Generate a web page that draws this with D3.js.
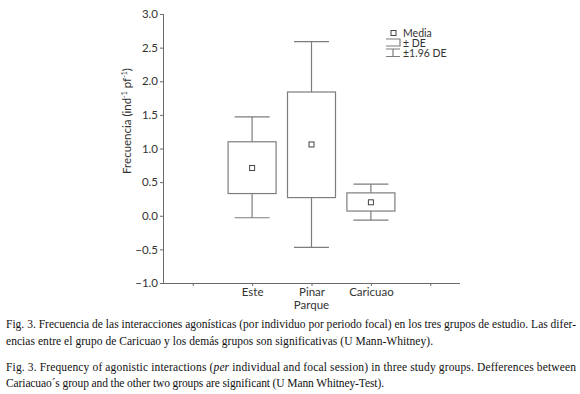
<!DOCTYPE html>
<html>
<head>
<meta charset="utf-8">
<script src="https://cdn.jsdelivr.net/npm/d3@7"></script>
<style>
  body { margin: 0; background: #fff; }
  svg { display: block; }
</style>
</head>
<body>
<div id="chart"></div>
<script>
// data
var groups = ["Este", "Pinar", "Caricuao"];
var means = [0.71, 1.06, 0.20];
var sdLow = [0.33, 0.27, 0.07];
var sdHigh = [1.10, 1.84, 0.34];
var ciLow = [-0.03, -0.47, -0.065];
var ciHigh = [1.47, 2.59, 0.47];
var yTicks = [-1.0, -0.5, 0.0, 0.5, 1.0, 1.5, 2.0, 2.5, 3.0];
var legendLabels = ["Media", "± DE", "±1.96 DE"];
var captionLines = [
  "Fig. 3. Frecuencia de las interacciones agonísticas (por individuo por periodo focal) en los tres grupos de estudio. Las difer-",
  "encias entre el grupo de Caricuao y los demás grupos son significativas (U Mann-Whitney).",
  null,
  "Cariacuao´s group and the other two groups are significant (U Mann Whitney-Test)."
];

var W = 580, H = 394;
var margin = {top: 14, left: 163, right: 120, bottom: 111};
var plotW = W - margin.left - margin.right,
    plotH = H - margin.top - margin.bottom;

var lineCol = "#7d7d7d", axisCol = "#6a6a6a", textCol = "#333";
var sansFont = "Lato, 'Noto Sans', sans-serif";

var svg = d3.select("#chart").append("svg")
    .attr("width", W)
    .attr("height", H);

var g = svg.append("g")
    .attr("transform", "translate(" + margin.left + "," + margin.top + ")");

// x: two empty slots at the ends, as in the original plot
var x = d3.scalePoint()
  .domain(["_l"].concat(groups, ["_r"]))
  .range([0, plotW])
  .padding(0.5);

var y = d3.scaleLinear()
  .domain([-1, 3])
  .range([plotH, 0]);

// y axis
var yAxis = g.append("g")
  .call(d3.axisLeft(y)
    .tickValues(yTicks)
    .tickSize(3)
    .tickPadding(2)
    .tickFormat(d3.format(".1f")));

// x axis
var xAxis = g.append("g")
  .attr("transform", "translate(0," + plotH + ")")
  .call(d3.axisBottom(x)
    .tickSize(3)
    .tickPadding(2)
    .tickFormat(function(d) { return d.charAt(0) == "_" ? "" : d; }));

[yAxis, xAxis].forEach(function(a) {
  a.select(".domain").attr("stroke", axisCol);
  a.selectAll(".tick line").attr("stroke", axisCol);
  a.selectAll("text")
    .attr("fill", textCol)
    .style("font-family", sansFont)
    .style("font-size", "11.5px");
});
// plain axis lines without end ticks
yAxis.select(".domain").attr("d", "M0.5," + plotH + "V0");
xAxis.select(".domain").attr("d", "M0,0.5H" + plotW);

// axis titles
svg.append("text")
  .attr("x", margin.left + x("Pinar"))
  .attr("y", 309)
  .attr("text-anchor", "middle")
  .attr("fill", textCol)
  .style("font-family", sansFont)
  .style("font-size", "11.5px")
  .text("Parque");

var ylab = svg.append("text")
  .attr("transform", "translate(131,121) rotate(-90)")
  .attr("text-anchor", "middle")
  .attr("fill", textCol)
  .style("font-family", sansFont)
  .style("font-size", "11.5px");
ylab.append("tspan").text("Frecuencia (ind");
ylab.append("tspan").attr("dy", -4).style("font-size", "7px").text("-1");
ylab.append("tspan").attr("dy", 4).text(" pf");
ylab.append("tspan").attr("dy", -4).style("font-size", "7px").text("-1");
ylab.append("tspan").attr("dy", 4).text(")");

// box plots
var boxW = 48, capW = 35, mk = 5;
var boxes = g.selectAll(".box")
  .data(groups)
  .enter().append("g")
    .attr("class", "box")
    .attr("stroke", lineCol)
    .attr("fill", "none")
    .attr("stroke-width", 1.2);

// whiskers (±1.96 DE)
boxes.append("line")
  .attr("x1", function(d) { return x(d); })
  .attr("x2", function(d) { return x(d); })
  .attr("y1", function(d, i) { return y(ciHigh[i]); })
  .attr("y2", function(d, i) { return y(ciLow[i]); });
[ciHigh, ciLow].forEach(function(arr) {
  boxes.append("line")
    .attr("x1", function(d) { return x(d) - capW / 2; })
    .attr("x2", function(d) { return x(d) + capW / 2; })
    .attr("y1", function(d, i) { return y(arr[i]); })
    .attr("y2", function(d, i) { return y(arr[i]); });
});

// box (± DE)
boxes.append("rect")
  .attr("x", function(d) { return x(d) - boxW / 2; })
  .attr("width", boxW)
  .attr("y", function(d, i) { return y(sdHigh[i]); })
  .attr("height", function(d, i) { return y(sdLow[i]) - y(sdHigh[i]); })
  .attr("fill", "#fff");

// mean marker
boxes.append("rect")
  .attr("x", function(d) { return x(d) - mk / 2; })
  .attr("y", function(d, i) { return y(means[i]) - mk / 2; })
  .attr("width", mk)
  .attr("height", mk)
  .attr("fill", "#fff")
  .attr("stroke", "#444")
  .attr("stroke-width", 1);

// legend
var leg = svg.append("g").attr("transform", "translate(386,33)");
leg.append("rect")
  .attr("x", 5).attr("y", -2.5).attr("width", 5).attr("height", 5)
  .attr("fill", "none").attr("stroke", "#444");
leg.append("path")
  .attr("d", "M0,6H14V13H0")
  .attr("fill", "none").attr("stroke", lineCol).attr("stroke-width", 1.2);
leg.append("path")
  .attr("d", "M0,16H14M7,16V23.5M0,23.5H14")
  .attr("fill", "none").attr("stroke", lineCol).attr("stroke-width", 1.2);
leg.selectAll(".lt")
  .data(legendLabels)
  .enter().append("text")
    .attr("x", 17)
    .attr("y", function(d, i) { return 4 + i * 10; })
    .attr("fill", textCol)
    .style("font-family", sansFont)
    .style("font-size", "10.5px")
    .text(function(d) { return d; });

// caption
var capY = [328, 345, 371, 387];
var capLen = [570, 427, 570, 378];
var cap = svg.append("g")
  .style("font-family", "'Liberation Serif', 'Times New Roman', serif")
  .style("font-size", "11.5px")
  .attr("fill", "#111");
captionLines.forEach(function(t, i) {
  var tx = cap.append("text")
    .attr("x", 6)
    .attr("y", capY[i])
    .attr("textLength", capLen[i])
    .attr("lengthAdjust", "spacing");
  if (t !== null) {
    tx.text(t);
  } else {
    tx.append("tspan").text("Fig. 3. Frequency of agonistic interactions (");
    tx.append("tspan").style("font-style", "italic").text("per");
    tx.append("tspan").text(" individual and focal session) in three study groups. Defferences between");
  }
});
</script>
</body>
</html>
